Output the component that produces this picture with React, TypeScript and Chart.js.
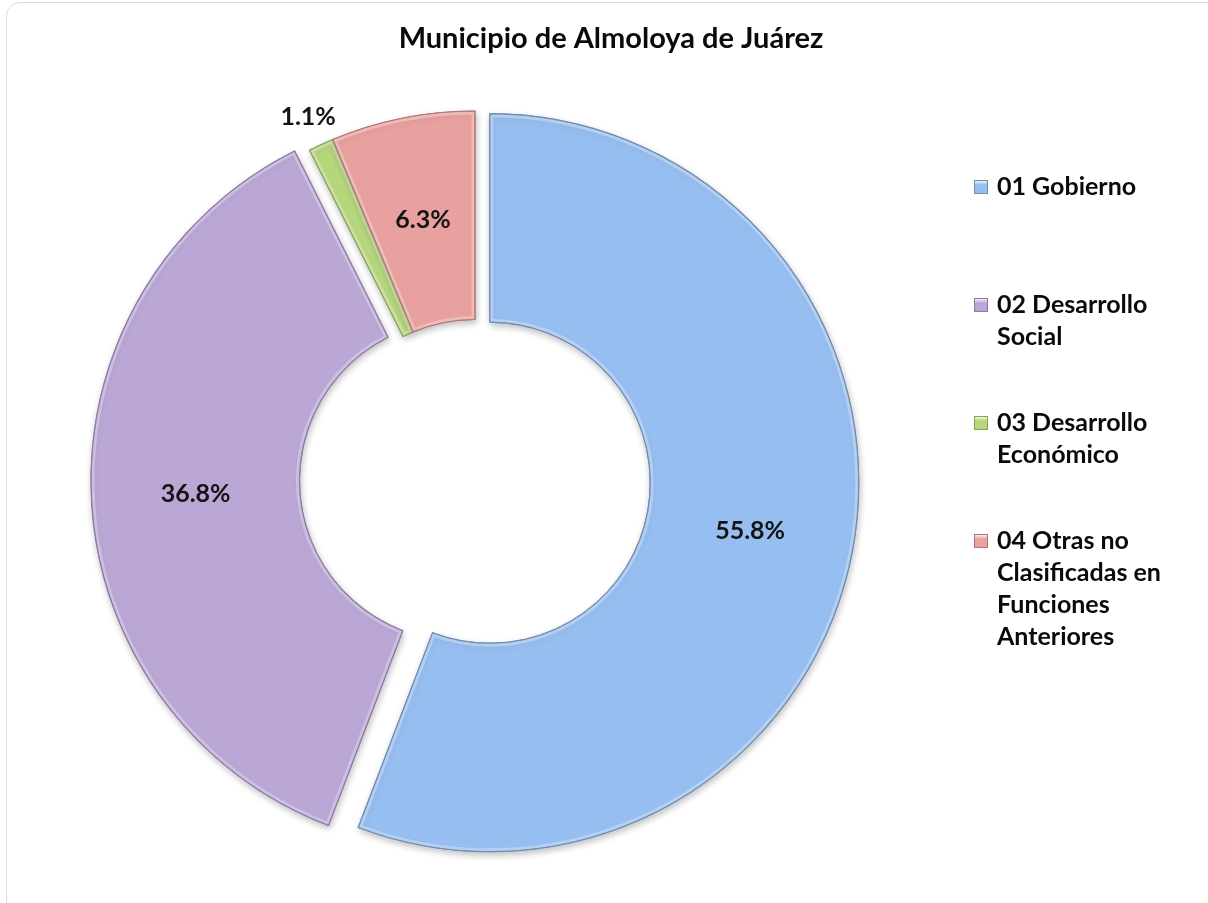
import React, { useEffect, useRef } from 'react';
import { Chart, registerables } from 'chart.js';

Chart.register(...registerables);

const TITLE = 'Municipio de Almoloya de Juárez';
const categories = [
  '01 Gobierno',
  '02 Desarrollo Social',
  '03 Desarrollo Económico',
  '04 Otras no Clasificadas en Funciones Anteriores',
];
const shares = [55.8, 36.8, 1.1, 6.3];
const sliceColors = ['#97BEF0', '#BBA7D5', '#B6D67C', '#E8A19F'];
const sliceBorders = ['#6E8DB5', '#8C7AA6', '#86A556', '#B57472'];
const explode = [15, 15, 0, 0];

const FONT = 'Lato, "Open Sans", "DejaVu Sans", sans-serif';

function wrapText(ctx: CanvasRenderingContext2D, text: string, maxWidth: number): string[] {
  const words = text.split(' ');
  const lines: string[] = [];
  let cur = '';
  for (const w of words) {
    const test = cur ? cur + ' ' + w : w;
    if (cur && ctx.measureText(test).width > maxWidth) {
      lines.push(cur);
      cur = w;
    } else {
      cur = test;
    }
  }
  if (cur) lines.push(cur);
  return lines;
}

const decorPlugin = {
  id: 'decor',
  afterDatasetsUpdate(chart: any) {
    const meta = chart.getDatasetMeta(0);
    meta.data.forEach((arc: any, i: number) => {
      const d = explode[i] || 0;
      if (!d) return;
      const mid = (arc.startAngle + arc.endAngle) / 2;
      arc.x += Math.cos(mid) * d;
      arc.y += Math.sin(mid) * d;
    });
  },
  beforeDatasetsDraw(chart: any) {
    const ctx = chart.ctx;
    ctx.save();
    ctx.shadowColor = 'rgba(0,0,0,0.25)';
    ctx.shadowBlur = 7;
    ctx.shadowOffsetX = 1;
    ctx.shadowOffsetY = 3;
  },
  afterDatasetsDraw(chart: any) {
    const ctx = chart.ctx;
    ctx.restore();
    const meta = chart.getDatasetMeta(0);
    meta.data.forEach((a: any, i: number) => {
      ctx.save();
      ctx.beginPath();
      ctx.arc(a.x, a.y, a.outerRadius, a.startAngle, a.endAngle);
      ctx.arc(a.x, a.y, a.innerRadius, a.endAngle, a.startAngle, true);
      ctx.closePath();
      ctx.clip();
      ctx.lineWidth = 7;
      ctx.strokeStyle = 'rgba(255,255,255,0.30)';
      ctx.stroke();
      ctx.restore();
      ctx.save();
      ctx.beginPath();
      ctx.arc(a.x, a.y, a.outerRadius, a.startAngle, a.endAngle);
      ctx.arc(a.x, a.y, a.innerRadius, a.endAngle, a.startAngle, true);
      ctx.closePath();
      ctx.lineWidth = 1.2;
      ctx.strokeStyle = sliceBorders[i];
      ctx.stroke();
      ctx.restore();
    });
    ctx.save();
    ctx.font = `bold 25px ${FONT}`;
    ctx.fillStyle = '#141414';
    ctx.textAlign = 'center';
    ctx.textBaseline = 'middle';
    meta.data.forEach((a: any, i: number) => {
      const text = shares[i].toFixed(1) + '%';
      let x: number, y: number;
      if (shares[i] < 3) {
        const mid = (a.startAngle + a.endAngle) / 2;
        const r = a.outerRadius + 31;
        x = a.x + Math.cos(mid) * r;
        y = a.y + Math.sin(mid) * r;
      } else {
        const p = a.tooltipPosition();
        x = p.x;
        y = p.y;
      }
      ctx.fillText(text, x, y);
    });
    ctx.restore();
  },
  afterDraw(chart: any) {
    const ctx = chart.ctx;
    ctx.save();
    ctx.font = `bold 29px ${FONT}`;
    ctx.fillStyle = '#0a0a0a';
    ctx.textAlign = 'center';
    ctx.textBaseline = 'middle';
    ctx.fillText(TITLE, 611, 39);
    ctx.font = `bold 25px ${FONT}`;
    ctx.textAlign = 'left';
    const lineH = 32;
    categories.forEach((cat, i) => {
      const y0 = 187 + i * 118;
      const box = 14;
      const bx = 974;
      const by = y0 - box / 2;
      const g = ctx.createLinearGradient(bx, by, bx, by + box);
      g.addColorStop(0, '#ffffff');
      g.addColorStop(0.35, sliceColors[i]);
      g.addColorStop(1, sliceColors[i]);
      ctx.fillStyle = g;
      ctx.fillRect(bx, by, box, box);
      ctx.lineWidth = 1;
      ctx.strokeStyle = sliceBorders[i];
      ctx.strokeRect(bx + 0.5, by + 0.5, box - 1, box - 1);
      ctx.fillStyle = '#0a0a0a';
      const lines = wrapText(ctx, cat, 185);
      lines.forEach((ln, j) => ctx.fillText(ln, 997, y0 + j * lineH));
    });
    ctx.restore();
  },
};

export default function App() {
  const canvasRef = useRef<HTMLCanvasElement | null>(null);

  useEffect(() => {
    if (!canvasRef.current) return;
    const chart = new Chart(canvasRef.current, {
      type: 'doughnut',
      data: {
        labels: categories,
        datasets: [
          {
            data: shares,
            backgroundColor: sliceColors,
            borderColor: sliceBorders,
            borderWidth: 1,
            hoverBorderWidth: 1,
            offset: 0,
            hoverOffset: 0,
          },
        ],
      },
      options: {
        responsive: false,
        animation: false,
        cutout: '43.5%',
        events: [],
        layout: { padding: { top: 80, bottom: 23, left: 105.5, right: 363.5 } },
        plugins: {
          legend: { display: false },
          title: { display: false },
          tooltip: { enabled: false },
        },
      },
      plugins: [decorPlugin],
    });
    return () => chart.destroy();
  }, []);

  return (
    <div
      style={{
        position: 'fixed',
        left: 0,
        top: 0,
        width: 1208,
        height: 903,
        overflow: 'hidden',
        background: '#ffffff',
      }}
    >
      <div
        style={{
          position: 'absolute',
          left: 6,
          top: 2,
          width: 1220,
          height: 920,
          border: '1.5px solid #dedcd8',
          borderRadius: 14,
          boxSizing: 'border-box',
        }}
      />
      <canvas
        ref={canvasRef}
        width={1208}
        height={903}
        style={{ position: 'absolute', left: 0, top: 0, display: 'block' }}
      />
    </div>
  );
}
